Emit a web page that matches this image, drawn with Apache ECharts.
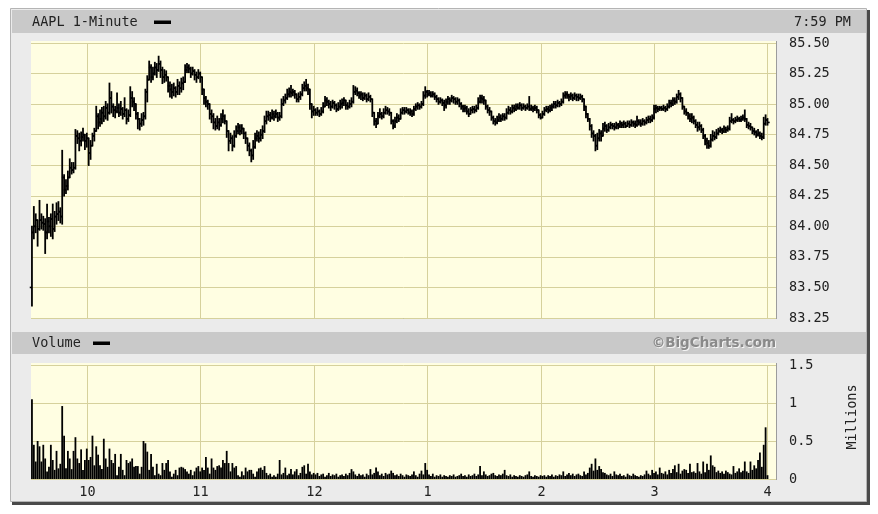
<!DOCTYPE html>
<html><head><meta charset="utf-8">
<script src="https://cdn.jsdelivr.net/npm/echarts@6/dist/echarts.min.js"></script>
<style>html,body{margin:0;padding:0;background:#fff;}#c{width:878px;height:514px;}</style>
</head><body><div id="c"></div>
<script>
// ---- tick labels ----
const hourTicks = [30, 90, 150, 210, 270, 330, 390];   // minutes after 9:30
const hourLabels = ['10', '11', '12', '1', '2', '3', '4'];
const firstOpen = 83.50;

// ---- 1-minute bars, 9:31-10:00 ----
const close_0930 = [83.95,84.00,84.05,83.98,84.05,84.03,84.02,83.95,84.04,84.00,
84.06,83.98,84.08,84.10,84.12,84.08,84.40,84.30,84.33,84.40,
84.48,84.46,84.48,84.74,84.72,84.70,84.73,84.75,84.70,84.72];
const high_0930 = [84.00,84.16,84.10,84.05,84.21,84.10,84.08,84.06,84.18,84.07,
84.10,84.18,84.12,84.19,84.20,84.15,84.62,84.42,84.38,84.45,
84.55,84.52,84.52,84.79,84.78,84.76,84.77,84.80,84.75,84.76];
const low_0930 = [83.35,83.90,83.95,83.84,83.97,83.98,83.97,83.78,83.90,83.95,
83.92,83.90,83.96,84.02,84.05,84.03,84.02,84.25,84.27,84.30,
84.40,84.43,84.44,84.47,84.68,84.62,84.66,84.70,84.63,84.65];
const vol_0930 = [1.05,0.45,0.23,0.50,0.43,0.23,0.45,0.27,0.10,0.16,
0.45,0.25,0.12,0.37,0.14,0.20,0.96,0.57,0.14,0.37,
0.27,0.13,0.37,0.55,0.27,0.21,0.39,0.12,0.25,0.40];

// ---- 10:01-11:00 ----
const close_1000 = [84.60,84.66,84.74,84.78,84.90,84.85,84.88,84.93,84.90,84.97,
84.93,85.05,84.98,84.95,84.94,84.97,84.93,84.96,84.92,84.95,
84.88,84.91,85.05,85.02,85.00,84.92,84.88,84.84,84.87,84.90,
85.10,85.20,85.30,85.22,85.25,85.30,85.28,85.33,85.28,85.22,
85.24,85.22,85.15,85.12,85.10,85.13,85.10,85.15,85.13,85.17,
85.18,85.28,85.30,85.29,85.25,85.27,85.24,85.22,85.25,85.22];
const high_1000 = [84.72,84.70,84.76,84.80,84.98,84.92,84.95,84.97,84.98,85.02,
85.00,85.17,85.10,85.00,84.98,85.09,85.00,85.02,84.97,85.05,
84.96,84.95,85.14,85.10,85.05,85.00,84.93,84.88,84.92,84.93,
85.12,85.23,85.35,85.32,85.30,85.34,85.33,85.39,85.35,85.30,
85.28,85.27,85.22,85.18,85.16,85.17,85.14,85.20,85.18,85.21,
85.22,85.32,85.33,85.32,85.30,85.30,85.28,85.26,85.28,85.26];
const low_1000 = [84.50,84.55,84.66,84.70,84.78,84.80,84.82,84.84,84.86,84.88,
84.87,84.92,84.93,84.90,84.89,84.93,84.90,84.91,84.88,84.90,
84.84,84.86,84.90,84.98,84.95,84.88,84.80,84.79,84.82,84.83,
84.88,85.02,85.20,85.18,85.20,85.24,85.22,85.27,85.22,85.17,
85.18,85.19,85.10,85.06,85.05,85.07,85.06,85.08,85.08,85.10,
85.12,85.18,85.26,85.26,85.22,85.24,85.20,85.18,85.21,85.18];
const vol_1000 = [0.25,0.29,0.57,0.18,0.43,0.32,0.18,0.13,0.53,0.27,
0.16,0.40,0.25,0.21,0.33,0.05,0.16,0.33,0.12,0.05,
0.25,0.21,0.23,0.27,0.16,0.17,0.17,0.07,0.16,0.50,
0.47,0.36,0.12,0.33,0.16,0.05,0.20,0.07,0.05,0.21,
0.12,0.21,0.25,0.10,0.03,0.07,0.12,0.05,0.15,0.16,
0.15,0.13,0.10,0.07,0.12,0.05,0.10,0.15,0.17,0.10];

// ---- 11:01-12:00 ----
const close_1100 = [85.12,85.05,85.02,85.00,84.92,84.90,84.85,84.82,84.85,84.83,
84.88,84.90,84.86,84.78,84.70,84.72,84.66,84.74,84.78,84.81,
84.78,84.80,84.76,84.72,84.66,84.62,84.58,84.65,84.72,84.74,
84.72,84.75,84.78,84.86,84.90,84.91,84.89,84.92,84.90,84.92,
84.89,84.90,85.00,85.03,85.05,85.08,85.10,85.09,85.10,85.08,
85.04,85.06,85.08,85.13,85.15,85.13,85.12,85.00,84.94,84.95];
const high_1100 = [85.22,85.10,85.06,85.03,84.98,84.95,84.92,84.88,84.90,84.88,
84.92,84.95,84.91,84.86,84.76,84.76,84.74,84.78,84.82,84.84,
84.83,84.83,84.80,84.77,84.72,84.68,84.63,84.70,84.76,84.78,
84.77,84.79,84.82,84.90,84.94,84.94,84.93,84.95,84.94,84.95,
84.93,84.93,85.04,85.06,85.08,85.12,85.13,85.15,85.12,85.11,
85.08,85.09,85.10,85.16,85.18,85.20,85.16,85.10,85.00,84.98];
const low_1100 = [85.08,85.00,84.98,84.96,84.88,84.85,84.80,84.79,84.80,84.79,
84.82,84.85,84.84,84.73,84.62,84.68,84.62,84.65,84.73,84.76,
84.75,84.76,84.72,84.68,84.62,84.58,84.53,84.55,84.64,84.70,
84.69,84.70,84.72,84.77,84.84,84.87,84.86,84.88,84.87,84.89,
84.86,84.87,84.89,84.99,85.01,85.04,85.06,85.06,85.07,85.05,
85.02,85.02,85.04,85.07,85.11,85.11,85.08,84.96,84.89,84.91];
const vol_1100 = [0.15,0.12,0.29,0.15,0.07,0.27,0.15,0.12,0.17,0.18,
0.15,0.25,0.21,0.37,0.21,0.10,0.21,0.15,0.17,0.05,
0.03,0.10,0.05,0.15,0.10,0.12,0.12,0.07,0.03,0.10,
0.14,0.15,0.12,0.17,0.08,0.05,0.07,0.03,0.05,0.03,
0.07,0.25,0.06,0.08,0.15,0.05,0.07,0.13,0.06,0.10,
0.13,0.05,0.08,0.16,0.18,0.07,0.20,0.10,0.06,0.08];

// ---- 12:01-1:00 ----
const close_1200 = [84.93,84.94,84.92,84.94,84.98,85.03,85.02,85.00,84.98,85.01,
84.99,84.96,84.98,85.00,85.01,85.03,84.99,84.98,85.00,85.02,
85.10,85.11,85.09,85.07,85.08,85.05,85.07,85.04,85.06,85.04,
84.93,84.86,84.84,84.90,84.92,84.90,84.93,84.95,84.94,84.93,
84.86,84.82,84.86,84.89,84.88,84.93,84.95,84.94,84.95,84.93,
84.94,84.92,84.96,84.98,84.99,84.98,85.00,85.07,85.10,85.08];
const high_1200 = [84.96,84.97,84.95,84.97,85.01,85.06,85.05,85.03,85.02,85.03,
85.02,85.00,85.01,85.03,85.04,85.05,85.03,85.01,85.03,85.05,
85.15,85.14,85.13,85.10,85.10,85.09,85.09,85.08,85.09,85.07,
85.03,84.93,84.88,84.93,84.96,84.93,84.96,84.98,84.97,84.96,
84.92,84.87,84.89,84.92,84.91,84.96,84.97,84.97,84.97,84.96,
84.96,84.95,84.98,85.00,85.01,85.00,85.02,85.10,85.14,85.11];
const low_1200 = [84.91,84.91,84.90,84.91,84.93,84.98,84.99,84.97,84.95,84.97,
84.96,84.94,84.95,84.96,84.97,84.99,84.96,84.96,84.97,84.98,
85.01,85.08,85.07,85.05,85.04,85.03,85.04,85.02,85.03,85.02,
84.90,84.83,84.81,84.85,84.89,84.88,84.89,84.92,84.92,84.91,
84.84,84.80,84.81,84.85,84.86,84.88,84.92,84.92,84.93,84.92,
84.91,84.90,84.91,84.95,84.96,84.96,84.97,84.99,85.05,85.06];
const vol_1200 = [0.06,0.08,0.04,0.06,0.07,0.03,0.05,0.08,0.04,0.06,
0.05,0.07,0.03,0.05,0.06,0.04,0.07,0.05,0.08,0.13,
0.10,0.06,0.04,0.07,0.05,0.06,0.03,0.07,0.05,0.13,
0.06,0.08,0.15,0.10,0.05,0.07,0.04,0.08,0.06,0.07,
0.11,0.08,0.05,0.06,0.04,0.07,0.05,0.03,0.06,0.05,
0.04,0.06,0.10,0.05,0.03,0.07,0.11,0.06,0.21,0.12];

// ---- 1:01-2:00 ----
const close_1300 = [85.09,85.07,85.08,85.06,85.04,85.02,85.03,85.01,84.99,85.02,
85.04,85.03,85.05,85.04,85.02,85.03,85.00,84.98,84.96,84.97,
84.94,84.92,84.95,84.96,84.95,84.97,85.02,85.05,85.04,85.03,
84.98,84.95,84.94,84.89,84.86,84.85,84.87,84.89,84.88,84.90,
84.89,84.93,84.95,84.94,84.97,84.96,84.98,84.97,84.99,84.97,
84.98,84.97,84.98,84.96,84.97,84.96,84.97,84.95,84.91,84.89];
const high_1300 = [85.11,85.10,85.10,85.09,85.07,85.05,85.05,85.04,85.03,85.04,
85.06,85.05,85.07,85.06,85.05,85.05,85.04,85.01,84.99,84.99,
84.98,84.96,84.97,84.98,84.98,84.99,85.05,85.07,85.07,85.06,
85.02,84.99,84.97,84.94,84.90,84.88,84.90,84.92,84.91,84.92,
84.92,84.96,84.98,84.97,84.99,84.99,85.00,85.00,85.01,85.00,
85.00,84.99,85.00,85.06,84.99,84.98,84.99,84.98,84.95,84.92];
const low_1300 = [85.07,85.06,85.06,85.04,85.02,85.00,85.01,84.99,84.95,84.97,
85.00,85.00,85.02,85.01,85.00,85.00,84.98,84.96,84.94,84.94,
84.92,84.90,84.92,84.93,84.93,84.94,84.96,85.01,85.01,85.00,
84.96,84.93,84.91,84.87,84.84,84.83,84.84,84.86,84.86,84.87,
84.87,84.88,84.92,84.92,84.93,84.94,84.95,84.96,84.96,84.95,
84.96,84.95,84.96,84.95,84.95,84.94,84.95,84.93,84.89,84.88];
const vol_1300 = [0.06,0.04,0.07,0.03,0.05,0.04,0.06,0.03,0.05,0.04,
0.03,0.05,0.04,0.06,0.03,0.04,0.05,0.07,0.04,0.05,
0.03,0.06,0.04,0.05,0.07,0.04,0.06,0.17,0.05,0.10,
0.06,0.04,0.05,0.07,0.08,0.05,0.04,0.06,0.05,0.07,
0.12,0.05,0.04,0.06,0.03,0.05,0.04,0.03,0.05,0.04,
0.03,0.05,0.06,0.10,0.04,0.03,0.05,0.04,0.03,0.05];

// ---- 2:01-3:00 ----
const close_1400 = [84.92,84.95,84.96,84.95,84.97,84.98,85.00,84.99,85.01,85.00,
85.02,85.07,85.08,85.07,85.06,85.07,85.05,85.07,85.06,85.05,
85.06,85.04,84.98,84.92,84.88,84.82,84.76,84.74,84.66,84.72,
84.76,84.74,84.80,84.82,84.79,84.81,84.83,84.82,84.81,84.83,
84.82,84.84,84.83,84.84,84.82,84.84,84.83,84.85,84.84,84.83,
84.86,84.85,84.84,84.86,84.85,84.87,84.88,84.87,84.89,84.96];
const high_1400 = [84.94,84.97,84.98,84.98,84.99,85.00,85.02,85.02,85.03,85.02,
85.04,85.09,85.10,85.10,85.08,85.09,85.08,85.09,85.08,85.08,
85.08,85.07,85.03,84.97,84.92,84.88,84.83,84.78,84.75,84.76,
84.79,84.78,84.84,84.85,84.83,84.84,84.85,84.84,84.84,84.85,
84.84,84.86,84.85,84.86,84.85,84.86,84.86,84.87,84.86,84.86,
84.90,84.87,84.87,84.88,84.87,84.89,84.90,84.90,84.91,84.99];
const low_1400 = [84.89,84.91,84.94,84.93,84.94,84.95,84.97,84.97,84.98,84.98,
84.99,85.01,85.05,85.05,85.03,85.04,85.03,85.04,85.03,85.03,
85.04,85.02,84.95,84.89,84.86,84.79,84.73,84.70,84.62,84.63,
84.70,84.70,84.74,84.78,84.77,84.78,84.80,84.80,84.79,84.80,
84.80,84.81,84.81,84.81,84.81,84.82,84.81,84.82,84.82,84.81,
84.82,84.83,84.82,84.83,84.83,84.84,84.85,84.85,84.86,84.88];
const vol_1400 = [0.04,0.05,0.03,0.05,0.04,0.06,0.03,0.05,0.04,0.06,
0.05,0.10,0.04,0.06,0.08,0.05,0.07,0.04,0.06,0.07,
0.05,0.04,0.10,0.06,0.08,0.15,0.20,0.11,0.27,0.12,
0.17,0.13,0.09,0.08,0.06,0.05,0.07,0.04,0.10,0.06,
0.05,0.07,0.04,0.05,0.03,0.07,0.05,0.04,0.07,0.05,
0.04,0.03,0.05,0.04,0.06,0.11,0.07,0.05,0.12,0.08];

// ---- 3:01-4:00 ----
const close_1500 = [84.97,84.96,84.97,84.96,84.97,84.96,84.98,85.01,85.00,85.03,
85.02,85.06,85.08,85.05,84.98,84.94,84.93,84.90,84.88,84.89,
84.86,84.83,84.81,84.82,84.79,84.74,84.70,84.68,84.66,84.71,
84.74,84.73,84.76,84.78,84.79,84.78,84.80,84.79,84.80,84.86,
84.87,84.86,84.87,84.88,84.87,84.88,84.89,84.88,84.83,84.82,
84.81,84.78,84.77,84.75,84.76,84.74,84.73,84.84,84.87,84.85];
const high_1500 = [84.99,84.98,84.98,84.98,84.99,84.98,85.00,85.03,85.03,85.05,
85.05,85.08,85.11,85.09,85.04,84.98,84.96,84.93,84.92,84.92,
84.90,84.87,84.85,84.85,84.83,84.80,84.75,84.72,84.70,84.75,
84.78,84.77,84.79,84.80,84.81,84.80,84.82,84.81,84.82,84.89,
84.92,84.88,84.89,84.90,84.89,84.90,84.91,84.95,84.88,84.85,
84.84,84.81,84.80,84.78,84.79,84.77,84.76,84.89,84.91,84.88];
const low_1500 = [84.93,84.94,84.95,84.95,84.95,84.94,84.95,84.97,84.98,84.99,
85.00,85.01,85.04,85.02,84.96,84.92,84.91,84.88,84.86,84.85,
84.84,84.81,84.78,84.79,84.77,84.72,84.67,84.64,84.64,84.65,
84.70,84.71,84.72,84.75,84.77,84.76,84.77,84.77,84.78,84.79,
84.85,84.84,84.85,84.86,84.86,84.86,84.87,84.86,84.81,84.80,
84.79,84.76,84.75,84.73,84.74,84.72,84.71,84.72,84.83,84.83];
const vol_1500 = [0.10,0.06,0.15,0.08,0.07,0.10,0.06,0.12,0.08,0.13,
0.18,0.09,0.20,0.07,0.11,0.13,0.12,0.08,0.20,0.09,
0.10,0.08,0.21,0.10,0.07,0.23,0.09,0.20,0.12,0.31,
0.18,0.16,0.09,0.11,0.08,0.10,0.07,0.11,0.09,0.07,
0.06,0.17,0.08,0.10,0.14,0.09,0.11,0.23,0.10,0.08,
0.23,0.12,0.18,0.14,0.25,0.35,0.16,0.45,0.68,0.05];

// ---- assemble ----
const closes = [].concat(close_0930, close_1000, close_1100, close_1200, close_1300, close_1400, close_1500);
const highs  = [].concat(high_0930, high_1000, high_1100, high_1200, high_1300, high_1400, high_1500);
const lows   = [].concat(low_0930, low_1000, low_1100, low_1200, low_1300, low_1400, low_1500);
const vols   = [].concat(vol_0930, vol_1000, vol_1100, vol_1200, vol_1300, vol_1400, vol_1500);

const priceData = closes.map((c, i) => [i + 1, i === 0 ? firstOpen : closes[i - 1], highs[i], lows[i], c]);
const volData = vols.map((v, i) => [i + 1, v]);

const MONO = '"DejaVu Sans Mono", monospace';
const GRIDC = '#d6d19c';
const PLOTBG = '#fffee2';
const TXT = '#222';

const chart = echarts.init(document.getElementById('c'), null, {renderer: 'canvas'});

function hourLineItem(withLabel) {
  return function (params, api) {
    const x = Math.round(api.coord([api.value(0), api.value(1)])[0]) + 0.5;
    const cs = params.coordSys;
    const children = [{
      type: 'line', shape: {x1: x, y1: cs.y, x2: x, y2: cs.y + cs.height},
      style: {stroke: GRIDC, lineWidth: 1}
    }];
    if (withLabel) {
      children.push({
        type: 'text', x: x, y: 492,
        style: {text: hourLabels[params.dataIndex], fill: TXT, font: '13.5px ' + MONO, align: 'center', verticalAlign: 'middle'}
      });
    }
    return {type: 'group', children: children};
  };
}

const option = {
  animation: false,
  backgroundColor: '#ffffff',
  grid: [
    {left: 31, top: 43, width: 745, height: 275},
    {left: 31, top: 365, width: 745, height: 114}
  ],
  xAxis: [
    {gridIndex: 0, type: 'value', min: 0.5, max: 394.5, show: false},
    {gridIndex: 1, type: 'value', min: 0.5, max: 394.5, show: false}
  ],
  yAxis: [
    {gridIndex: 0, type: 'value', position: 'right', min: 83.25, max: 85.5, interval: 0.25,
     axisLine: {show: false}, axisTick: {show: false},
     splitLine: {lineStyle: {color: GRIDC, width: 1}},
     axisLabel: {margin: 13, color: TXT, fontFamily: MONO, fontSize: 13.5, formatter: v => v.toFixed(2)}},
    {gridIndex: 1, type: 'value', position: 'right', min: 0, max: 1.5, interval: 0.5,
     axisLine: {show: false}, axisTick: {show: false},
     splitLine: {lineStyle: {color: GRIDC, width: 1}},
     axisLabel: {margin: 13, color: TXT, fontFamily: MONO, fontSize: 13.5, formatter: v => String(v)}}
  ],
  graphic: [
    {type: 'rect', z: -20, shape: {x: 12, y: 10, width: 858, height: 495}, style: {fill: '#4a4a4a'}},
    {type: 'rect', z: -19, shape: {x: 10.5, y: 8.5, width: 856, height: 493}, style: {fill: '#ebebeb', stroke: '#b4b4b4', lineWidth: 1}},
    {type: 'rect', z: -18, shape: {x: 12, y: 10, width: 854, height: 23}, style: {fill: '#c9c9c9'}},
    {type: 'rect', z: -18, shape: {x: 12, y: 332, width: 854, height: 22}, style: {fill: '#c9c9c9'}},
    {type: 'rect', z: -17, shape: {x: 31, y: 41, width: 745, height: 277}, style: {fill: PLOTBG}},
    {type: 'rect', z: -17, shape: {x: 31, y: 363, width: 745, height: 116}, style: {fill: PLOTBG}},
    {type: 'line', z: -16, shape: {x1: 776.5, y1: 41, x2: 776.5, y2: 319}, style: {stroke: '#9c9c9c', lineWidth: 1}},
    {type: 'line', z: -16, shape: {x1: 31, y1: 318.5, x2: 777, y2: 318.5}, style: {stroke: '#9c9c9c', lineWidth: 1}},
    {type: 'line', z: -16, shape: {x1: 776.5, y1: 363, x2: 776.5, y2: 480}, style: {stroke: '#9c9c9c', lineWidth: 1}},
    {type: 'line', z: -16, shape: {x1: 31, y1: 479.5, x2: 777, y2: 479.5}, style: {stroke: '#9c9c9c', lineWidth: 1}},
    {type: 'text', x: 32, y: 22.5, style: {text: 'AAPL 1-Minute', fill: TXT, font: '13.5px ' + MONO, align: 'left', verticalAlign: 'middle'}},
    {type: 'rect', shape: {x: 154, y: 20.5, width: 17, height: 3.5}, style: {fill: '#000'}},
    {type: 'text', x: 851, y: 22.5, style: {text: '7:59 PM', fill: TXT, font: '13.5px ' + MONO, align: 'right', verticalAlign: 'middle'}},
    {type: 'text', x: 32, y: 343.5, style: {text: 'Volume', fill: TXT, font: '13.5px ' + MONO, align: 'left', verticalAlign: 'middle'}},
    {type: 'rect', shape: {x: 93, y: 341.5, width: 17, height: 3.5}, style: {fill: '#000'}},
    {type: 'text', x: 777, y: 344, style: {text: '©BigCharts.com', fill: '#f4f4f4', font: 'bold 13.5px "DejaVu Sans", sans-serif', align: 'right', verticalAlign: 'middle'}},
    {type: 'text', x: 776, y: 343, style: {text: '©BigCharts.com', fill: '#8a8a8a', font: 'bold 13.5px "DejaVu Sans", sans-serif', align: 'right', verticalAlign: 'middle'}},
    {type: 'text', x: 852, y: 417, rotation: Math.PI / 2, style: {text: 'Millions', fill: TXT, font: '13.5px ' + MONO, align: 'center', verticalAlign: 'middle'}}
  ],
  series: [
    {type: 'custom', name: 'hours-price', xAxisIndex: 0, yAxisIndex: 0, z: 1, silent: true, clip: false,
     data: hourTicks.map(t => [t, 83.25]), encode: {x: 0, y: 1}, renderItem: hourLineItem(false)},
    {type: 'custom', name: 'hours-volume', xAxisIndex: 1, yAxisIndex: 1, z: 1, silent: true, clip: false,
     data: hourTicks.map(t => [t, 0]), encode: {x: 0, y: 1}, renderItem: hourLineItem(true)},
    {type: 'custom', name: 'AAPL', xAxisIndex: 0, yAxisIndex: 0, z: 3, silent: true, clip: false,
     data: priceData, encode: {x: 0, y: [1, 2, 3, 4]},
     renderItem: function (params, api) {
       const k = api.value(0), o = api.value(1), h = api.value(2), l = api.value(3), c = api.value(4);
       const hi = Math.max(h, o, c), lo = Math.min(l, o, c);
       const pH = api.coord([k, hi]), pL = api.coord([k, lo]);
       const pO = api.coord([k, o]), pC = api.coord([k, c]);
       const x = pH[0];
       return {type: 'group', children: [
         {type: 'line', shape: {x1: x, y1: pH[1] - 0.7, x2: x, y2: pL[1] + 0.7}, style: {stroke: '#000', lineWidth: 1.8}},
         {type: 'line', shape: {x1: x - 2.2, y1: pO[1], x2: x, y2: pO[1]}, style: {stroke: '#000', lineWidth: 1.6}},
         {type: 'line', shape: {x1: x, y1: pC[1], x2: x + 2.2, y2: pC[1]}, style: {stroke: '#000', lineWidth: 1.6}}
       ]};
     }},
    {type: 'custom', name: 'Volume', xAxisIndex: 1, yAxisIndex: 1, z: 3, silent: true, clip: false,
     data: volData, encode: {x: 0, y: 1},
     renderItem: function (params, api) {
       const p = api.coord([api.value(0), api.value(1)]);
       const p0 = api.coord([api.value(0), 0]);
       return {type: 'rect', shape: {x: p[0] - 0.9, y: p[1], width: 1.8, height: p0[1] - p[1]}, style: {fill: '#000'}};
     }}
  ]
};
chart.setOption(option);
</script>
</body></html>
